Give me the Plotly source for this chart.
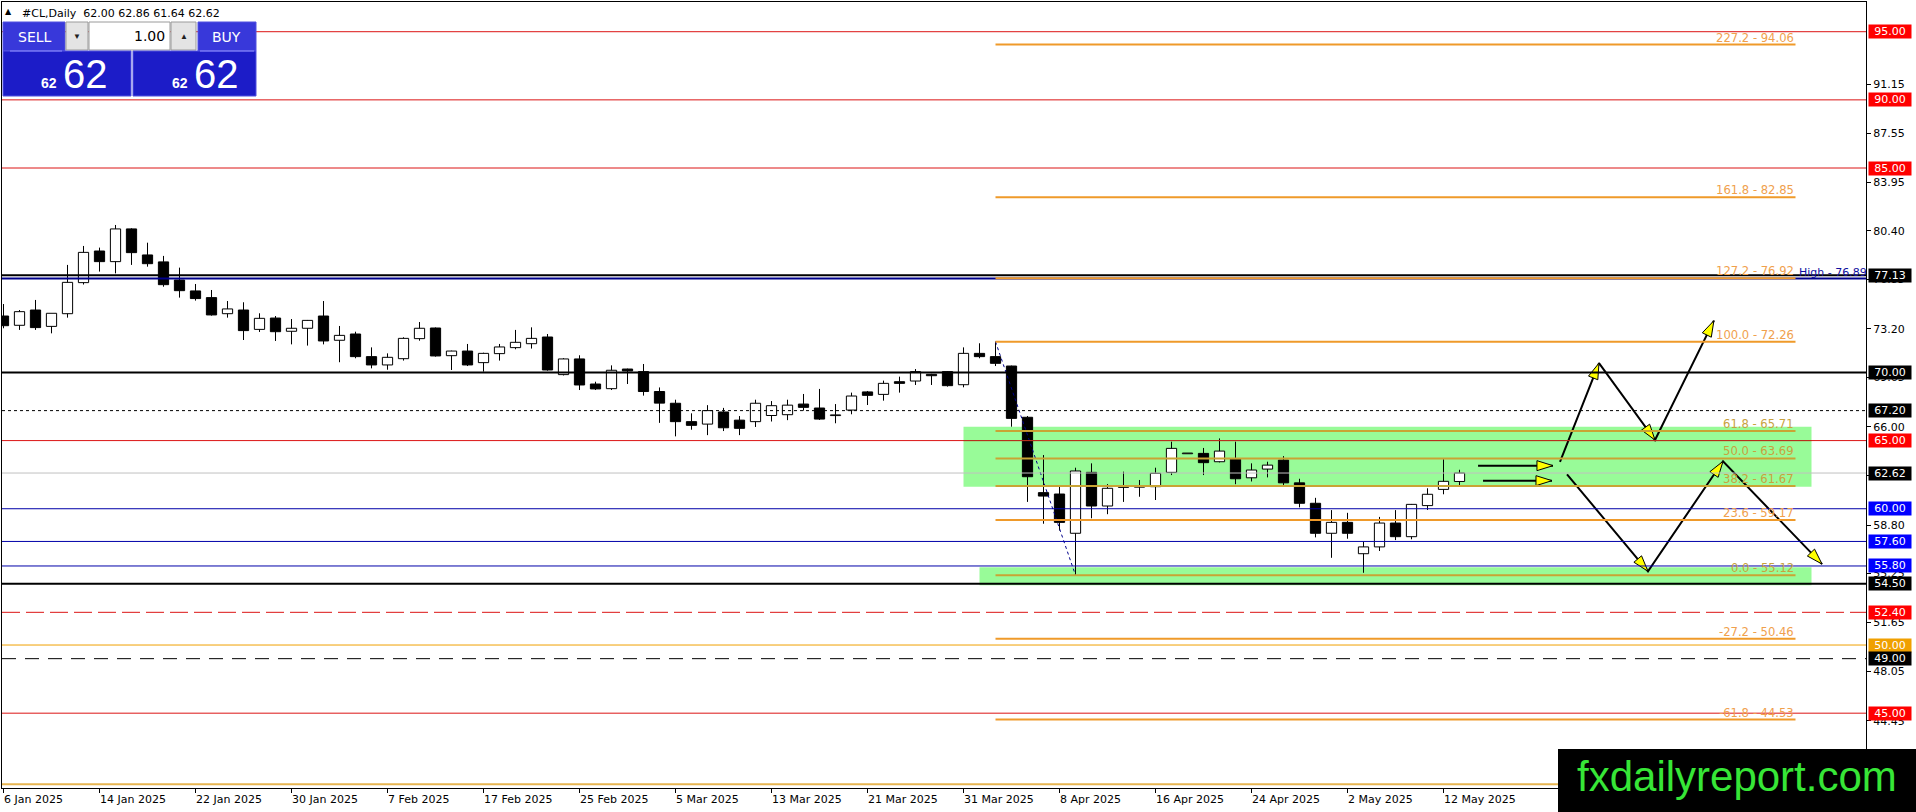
import plotly.graph_objects as go
import pandas as pd

# ---------------- data ----------------
bar_dates = pd.bdate_range("2025-01-06", "2025-05-13")   # 92 daily bars

open_ = [74.14, 73.46, 74.58, 73.38, 74.31, 76.59, 78.91, 78.13, 80.53, 78.62,
         78.11, 76.78, 75.98, 75.49, 74.31, 74.58, 73.16, 73.99, 73.02, 73.24,
         74.14, 72.36, 72.82, 71.16, 70.55, 71.01, 72.48, 73.26, 71.23, 71.57,
         70.72, 71.38, 71.82, 72.11, 72.60, 69.84, 70.99, 69.15, 68.81, 70.25,
         70.06, 68.60, 67.74, 66.39, 66.21, 67.10, 66.50, 66.39, 66.84, 66.90,
         67.68, 67.39, 66.85, 67.24, 68.57, 68.39, 69.32, 69.37, 69.86, 70.06,
         69.10, 71.40, 71.16, 70.47, 66.71, 61.18, 61.08, 58.20, 62.67, 60.20,
         61.69, 61.62, 61.62, 62.67, 64.06, 64.06, 63.45, 63.64, 62.27, 62.91,
         63.57, 61.90, 60.40, 58.20, 59.00, 56.70, 57.20, 58.95, 57.95, 60.23,
         61.42, 62.00]
high = [75.02, 74.58, 75.32, 74.34, 77.89, 79.28, 79.16, 80.82, 80.58, 79.52,
        78.55, 77.69, 76.49, 76.05, 75.24, 75.15, 74.34, 74.14, 73.92, 73.85,
        75.24, 73.41, 72.99, 71.84, 71.40, 72.58, 73.70, 73.30, 71.60, 72.09,
        71.45, 72.09, 73.12, 73.31, 72.82, 71.05, 71.26, 69.32, 70.52, 70.28,
        70.62, 68.90, 68.00, 67.00, 67.60, 67.40, 66.80, 68.00, 67.90, 68.00,
        68.42, 68.79, 67.68, 68.52, 68.64, 69.40, 69.69, 70.25, 69.90, 70.10,
        71.84, 72.14, 72.26, 70.50, 66.80, 63.94, 61.67, 63.01, 63.33, 61.81,
        62.72, 62.11, 63.01, 64.92, 64.06, 64.46, 65.16, 64.92, 63.33, 63.45,
        63.86, 62.20, 60.80, 59.90, 59.70, 57.60, 59.40, 59.90, 60.35, 61.50,
        63.63, 62.86]
low = [73.24, 73.12, 73.12, 72.87, 74.02, 76.45, 77.40, 77.27, 77.89, 77.76,
       76.29, 75.49, 75.27, 74.17, 74.02, 72.38, 72.97, 72.31, 72.06, 71.97,
       72.06, 70.75, 71.04, 70.30, 70.20, 70.87, 72.33, 71.16, 70.18, 70.47,
       70.06, 70.87, 71.70, 71.75, 70.13, 69.78, 68.71, 68.71, 68.71, 69.15,
       68.30, 66.30, 65.31, 65.80, 65.40, 65.70, 65.40, 66.00, 66.40, 66.50,
       67.20, 66.51, 66.27, 66.93, 67.61, 67.93, 68.52, 69.08, 69.08, 68.96,
       68.91, 71.04, 70.47, 66.02, 60.50, 58.90, 58.40, 55.12, 59.30, 59.60,
       60.50, 60.88, 60.64, 62.47, 64.06, 62.47, 63.40, 61.80, 62.00, 62.30,
       61.60, 60.10, 57.90, 56.40, 57.80, 55.30, 56.90, 57.70, 57.76, 59.91,
       61.06, 61.64]
close = [73.43, 74.46, 73.29, 74.34, 76.61, 78.81, 78.13, 80.53, 78.79, 77.98,
         76.44, 76.00, 75.42, 74.22, 74.66, 73.07, 73.97, 72.99, 73.24, 73.82,
         72.31, 72.72, 71.16, 70.55, 71.11, 72.50, 73.24, 71.21, 71.57, 70.55,
         71.40, 71.87, 72.21, 72.50, 70.18, 70.99, 69.08, 68.79, 70.16, 70.11,
         68.60, 67.75, 66.39, 66.12, 67.20, 65.94, 65.90, 67.74, 67.56, 67.60,
         67.44, 66.58, 66.87, 68.27, 68.32, 69.20, 69.20, 70.06, 69.76, 69.03,
         71.40, 71.16, 70.67, 66.63, 62.35, 60.93, 59.00, 62.77, 60.20, 61.50,
         61.57, 61.60, 62.60, 64.43, 64.06, 63.38, 64.23, 62.20, 62.84, 63.20,
         61.90, 60.40, 58.20, 59.00, 58.20, 57.20, 58.95, 57.95, 60.32, 61.06,
         62.01, 62.62]

date_tick_pos = [0, 6, 12, 18, 24, 30, 36, 42, 48, 54, 60, 66, 72, 78, 84, 90]
date_tick_text = ["6 Jan 2025", "14 Jan 2025", "22 Jan 2025", "30 Jan 2025",
                  "7 Feb 2025", "17 Feb 2025", "25 Feb 2025", "5 Mar 2025",
                  "13 Mar 2025", "21 Mar 2025", "31 Mar 2025", "8 Apr 2025",
                  "16 Apr 2025", "24 Apr 2025", "2 May 2025", "12 May 2025"]

price_ticks = [91.15, 87.55, 83.95, 80.40, 76.85, 73.20, 69.65, 66.00,
               62.45, 58.80, 55.25, 51.65, 48.05, 44.45]

level_values = [95.00, 90.00, 85.00, 77.13, 70.00, 67.20, 65.00, 62.62,
                60.00, 57.60, 55.80, 54.50, 52.40, 50.00, 49.00, 45.00]
level_styles = ["red", "red", "red", "black", "black", "dot", "red", "gray",
                "blue", "blue", "blue", "black", "reddash", "orange", "blackdash", "red"]
level_label_bg = ["#ff0000", "#ff0000", "#ff0000", "#000000", "#000000", "#000000",
                  "#ff0000", "#000000", "#0000ff", "#0000ff", "#0000ff", "#000000",
                  "#ff0000", "#f0a000", "#000000", "#ff0000"]

high_line_value = 76.89
bottom_line_value = 39.79

fib_pct = ["227.2", "161.8", "127.2", "100.0", "61.8", "50.0", "38.2", "23.6",
           "0.0", "-27.2", "-61.8"]
fib_val = [94.06, 82.85, 76.92, 72.26, 65.71, 63.69, 61.67, 59.17, 55.12, 50.46, 44.53]
fib_x_start, fib_x_end = 62, 112
swing_x = [62, 67]
swing_y = [72.26, 55.12]

zone_x0 = [60, 61]
zone_x1 = [113, 113]
zone_y0 = [61.62, 54.38]
zone_y1 = [66.02, 55.70]

harrow_x0 = [92.16, 92.47]
harrow_x1 = [96.84, 96.78]
harrow_y = [63.16, 62.06]
zig_up_x = [97.28, 99.72, 103.22, 106.90]
zig_up_y = [63.43, 70.69, 65.04, 73.80]
zig_dn_x = [97.72, 102.78, 107.47, 113.66]
zig_dn_y = [62.52, 55.41, 63.48, 55.94]

header_text = "#CL,Daily  62.00 62.86 61.64 62.62"
lot_text = "1.00"
bid_small, bid_big = "62", "62"
ask_small, ask_big = "62", "62"
watermark = "fxdailyreport.com"

# ---------------- geometry ----------------
W, H = 1916, 812
ML, MR, MT, MB = 2, 50, 2, 24
PW, PH = W - ML - MR, H - MT - MB
BAR_PX = 16.0
X0 = -1.5 / BAR_PX
X1 = X0 + PW / BAR_PX
Y_TOP, Y_BOT = 97.18, 39.51
SY = PH / (Y_TOP - Y_BOT)
MT4 = "DejaVu Sans"


def px(x):
    return (x - ML) / PW


def py(y):
    return 1 - (y - MT) / PH


styles = {
    "red": ("#dc1414", 1, "solid"),
    "black": ("#000000", 2, "solid"),
    "dot": ("#000000", 1, "3px,3px"),
    "gray": ("#c0c0c0", 1, "solid"),
    "blue": ("#0000a8", 1, "solid"),
    "reddash": ("#dc1414", 1, "18px,6px"),
    "orange": ("#f0a000", 1, "solid"),
    "blackdash": ("#000000", 1, "14px,9px"),
}
FIB_LINE = "#ef9a2a"
FIB_TEXT = "#f0a04c"
FIB_LINE_Z = "#c9a434"      # fib line seen through the green zone
FIB_TEXT_Z = "#c8a23e"
RED_Z = "#b4321e"


def in_zone(v):
    return any(a <= v <= b for a, b in zip(zone_y0, zone_y1))


fig = go.Figure()
shapes = []
ann = []

# green zones
for a, b, c, d in zip(zone_x0, zone_x1, zone_y0, zone_y1):
    shapes.append(dict(type="rect", xref="x", yref="y", x0=a, x1=b, y0=c, y1=d,
                       fillcolor="#98fb98", line=dict(width=0), layer="below"))

# candles
idx = list(range(len(open_)))
base, hgt, col, wx, wy = [], [], [], [], []
for i, (o, h, l, c) in enumerate(zip(open_, high, low, close)):
    top, bot = max(o, c), min(o, c)
    if top - bot < 0.05:
        m = (top + bot) / 2
        top, bot = m + 0.025, m - 0.025
    base.append(bot)
    hgt.append(top - bot)
    col.append("#ffffff" if c >= o else "#000000")
    if h > top:
        wx += [i, i, None]
        wy += [h, top, None]
    if l < bot:
        wx += [i, i, None]
        wy += [bot, l, None]

fig.add_trace(go.Bar(x=idx, y=hgt, base=base, width=0.64,
                     marker=dict(color=col, line=dict(color="#000000", width=1)),
                     hoverinfo="skip"))
fig.add_trace(go.Scatter(x=wx, y=wy, mode="lines",
                         line=dict(color="#000000", width=1), hoverinfo="skip"))

# horizontal levels
for v, s in zip(level_values, level_styles):
    c, w, d = styles[s]
    shapes.append(dict(type="line", xref="paper", yref="y", x0=0, x1=1, y0=v, y1=v,
                       line=dict(color=c, width=w, dash=d), layer="above"))
    if s == "red":
        for a, b, lo, hi in zip(zone_x0, zone_x1, zone_y0, zone_y1):
            if lo <= v <= hi:
                shapes.append(dict(type="line", xref="x", yref="y", x0=a, x1=b,
                                   y0=v, y1=v, line=dict(color=RED_Z, width=1),
                                   layer="above"))
shapes.append(dict(type="line", xref="paper", yref="y", x0=0, x1=1,
                   y0=high_line_value, y1=high_line_value,
                   line=dict(color="#00008b", width=2), layer="above"))
shapes.append(dict(type="line", xref="paper", yref="y", x0=0, x1=1,
                   y0=bottom_line_value, y1=bottom_line_value,
                   line=dict(color="#e6b450", width=2), layer="above"))

# fibonacci
for p, v in zip(fib_pct, fib_val):
    z = in_zone(v)
    shapes.append(dict(type="line", xref="x", yref="y", x0=fib_x_start, x1=fib_x_end,
                       y0=v, y1=v, line=dict(color=FIB_LINE_Z if z else FIB_LINE, width=2),
                       layer="above"))
    ann.append(dict(xref="x", yref="y", x=fib_x_end, y=v, xanchor="right", yanchor="bottom",
                    text=f"{p} - {v:.2f}", showarrow=False, yshift=-2,
                    font=dict(family=MT4, size=11.6, color=FIB_TEXT_Z if z else FIB_TEXT)))
fig.add_trace(go.Scatter(x=swing_x, y=swing_y, mode="lines",
                         line=dict(color="#00008b", width=1, dash="dot"), hoverinfo="skip"))
ann.append(dict(xref="x", yref="y", x=fib_x_end, y=high_line_value, xanchor="left",
                yanchor="bottom", text="High - 76.89", showarrow=False, yshift=-2, xshift=1,
                font=dict(family=MT4, size=11, color="#1010a0")))


# arrows
def head(xa, ya, xb, yb, L=16.0, Wd=5.0):
    dx, dy = (xb - xa) * BAR_PX, (yb - ya) * SY
    n = (dx * dx + dy * dy) ** 0.5
    ux, uy = dx / n, dy / n
    bx, by = xb * BAR_PX - L * ux, yb * SY - L * uy
    nx, ny = -uy, ux
    xs = [xb, (bx + Wd * nx) / BAR_PX, (bx - Wd * nx) / BAR_PX, xb]
    ys = [yb, (by + Wd * ny) / SY, (by - Wd * ny) / SY, yb]
    return xs, ys


paths = [([a, b], [y, y]) for a, b, y in zip(harrow_x0, harrow_x1, harrow_y)]
paths += [(zig_up_x, zig_up_y), (zig_dn_x, zig_dn_y)]
for xs, ys in paths:
    fig.add_trace(go.Scatter(x=xs, y=ys, mode="lines",
                             line=dict(color="#000000", width=2), hoverinfo="skip"))
for xs, ys in paths:
    for k in range(1, len(xs)):
        hx, hy = head(xs[k - 1], ys[k - 1], xs[k], ys[k])
        fig.add_trace(go.Scatter(x=hx, y=hy, mode="lines", fill="toself",
                                 fillcolor="#ffff00",
                                 line=dict(color="#000000", width=1), hoverinfo="skip"))

# right-side price labels
for v, bg in zip(level_values, level_label_bg):
    ann.append(dict(xref="paper", yref="y", x=px(1868), y=v, xanchor="left",
                    yanchor="middle", text=f"{v:.2f}", showarrow=False,
                    bgcolor=bg, width=42, height=13, borderpad=0,
                    font=dict(family=MT4, size=11, color="#ffffff")))

# date labels
for p, t in zip(date_tick_pos, date_tick_text):
    ann.append(dict(xref="x", yref="paper", x=p, y=0, xanchor="left", yanchor="top",
                    text=t, showarrow=False, yshift=-3, xshift=-2,
                    font=dict(family=MT4, size=11, color="#000000")))

# header + one-click panel
ann.append(dict(xref="paper", yref="paper", x=px(3), y=py(12), xanchor="left",
                yanchor="middle", text="▲", showarrow=False,
                font=dict(family=MT4, size=8, color="#000000")))
ann.append(dict(xref="paper", yref="paper", x=px(20), y=py(13), xanchor="left",
                yanchor="middle", text=header_text, showarrow=False,
                font=dict(family=MT4, size=11, color="#000000")))


def rect(x0, y0, x1, y1, fill, line="#5050e0", lw=1):
    shapes.append(dict(type="rect", xref="paper", yref="paper", x0=px(x0), x1=px(x1),
                       y0=py(y1), y1=py(y0), fillcolor=fill,
                       line=dict(color=line, width=lw), layer="above"))


def text(x, y, s, size, color, anchor="center", family="Liberation Sans", weight="normal"):
    ann.append(dict(xref="paper", yref="paper", x=px(x), y=py(y), xanchor=anchor,
                    yanchor="middle", text=s, showarrow=False,
                    font=dict(family=family, size=size, color=color, weight=weight)))


rect(3, 22, 65, 51, "#3838da")
rect(66, 22, 88, 50, "#e4e4e4", "#9a9a9a")
rect(89, 22, 170, 50, "#ffffff", "#9a9a9a")
rect(171, 22, 196, 50, "#e4e4e4", "#9a9a9a")
rect(198, 22, 256, 51, "#3838da")
rect(3, 51, 131, 96, "#1c1cc8")
rect(133, 51, 256, 96, "#1c1cc8")
for xa, xb in ((10, 62), (200, 254)):
    shapes.append(dict(type="line", xref="paper", yref="paper", x0=px(xa), x1=px(xb),
                       y0=py(51), y1=py(51), line=dict(color="#8c8cff", width=1),
                       layer="above"))
text(35, 37, "SELL", 14, "#ffffff", family="DejaVu Sans")
text(226, 37, "BUY", 14, "#ffffff", family="DejaVu Sans")
text(77, 36, "▼", 8, "#202020")
text(184, 36, "▲", 8, "#202020")
text(167, 36, lot_text, 14, "#000000", "right", family="DejaVu Sans")
text(59, 83, bid_small, 14, "#ffffff", "right", weight="bold")
text(61, 74, bid_big, 40, "#ffffff", "left")
text(190, 83, ask_small, 14, "#ffffff", "right", weight="bold")
text(192, 74, ask_big, 40, "#ffffff", "left")

# watermark
shapes.append(dict(type="rect", xref="paper", yref="paper", x0=px(1558), x1=px(1916 + 5),
                   y0=py(812 + 5), y1=py(749), fillcolor="#000000",
                   line=dict(width=0), layer="above"))
text(1737, 776, watermark, 42, "#37e637")

fig.update_layout(
    width=W, height=H, margin=dict(l=ML, r=MR, t=MT, b=MB),
    paper_bgcolor="#ffffff", plot_bgcolor="#ffffff", showlegend=False,
    barmode="overlay", shapes=shapes, annotations=ann,
    xaxis=dict(range=[X0, X1], showgrid=False, zeroline=False, showline=True,
               linecolor="#000000", linewidth=1, mirror=True, ticks="outside",
               ticklen=4, tickcolor="#000000", tickvals=date_tick_pos,
               showticklabels=False, fixedrange=True),
    yaxis=dict(range=[Y_BOT, Y_TOP], side="right", showgrid=False, zeroline=False,
               showline=True, linecolor="#000000", linewidth=1, mirror=True,
               ticks="outside", ticklen=4, tickcolor="#000000",
               tickvals=price_ticks, ticktext=[f"{t:.2f}" for t in price_ticks],
               tickfont=dict(family=MT4, size=11, color="#000000"), fixedrange=True),
)

fig.write_html("out.html",
               config={"displayModeBar": False},
               post_script="document.body.style.margin='0px';"
                           "document.body.style.overflow='hidden';")
